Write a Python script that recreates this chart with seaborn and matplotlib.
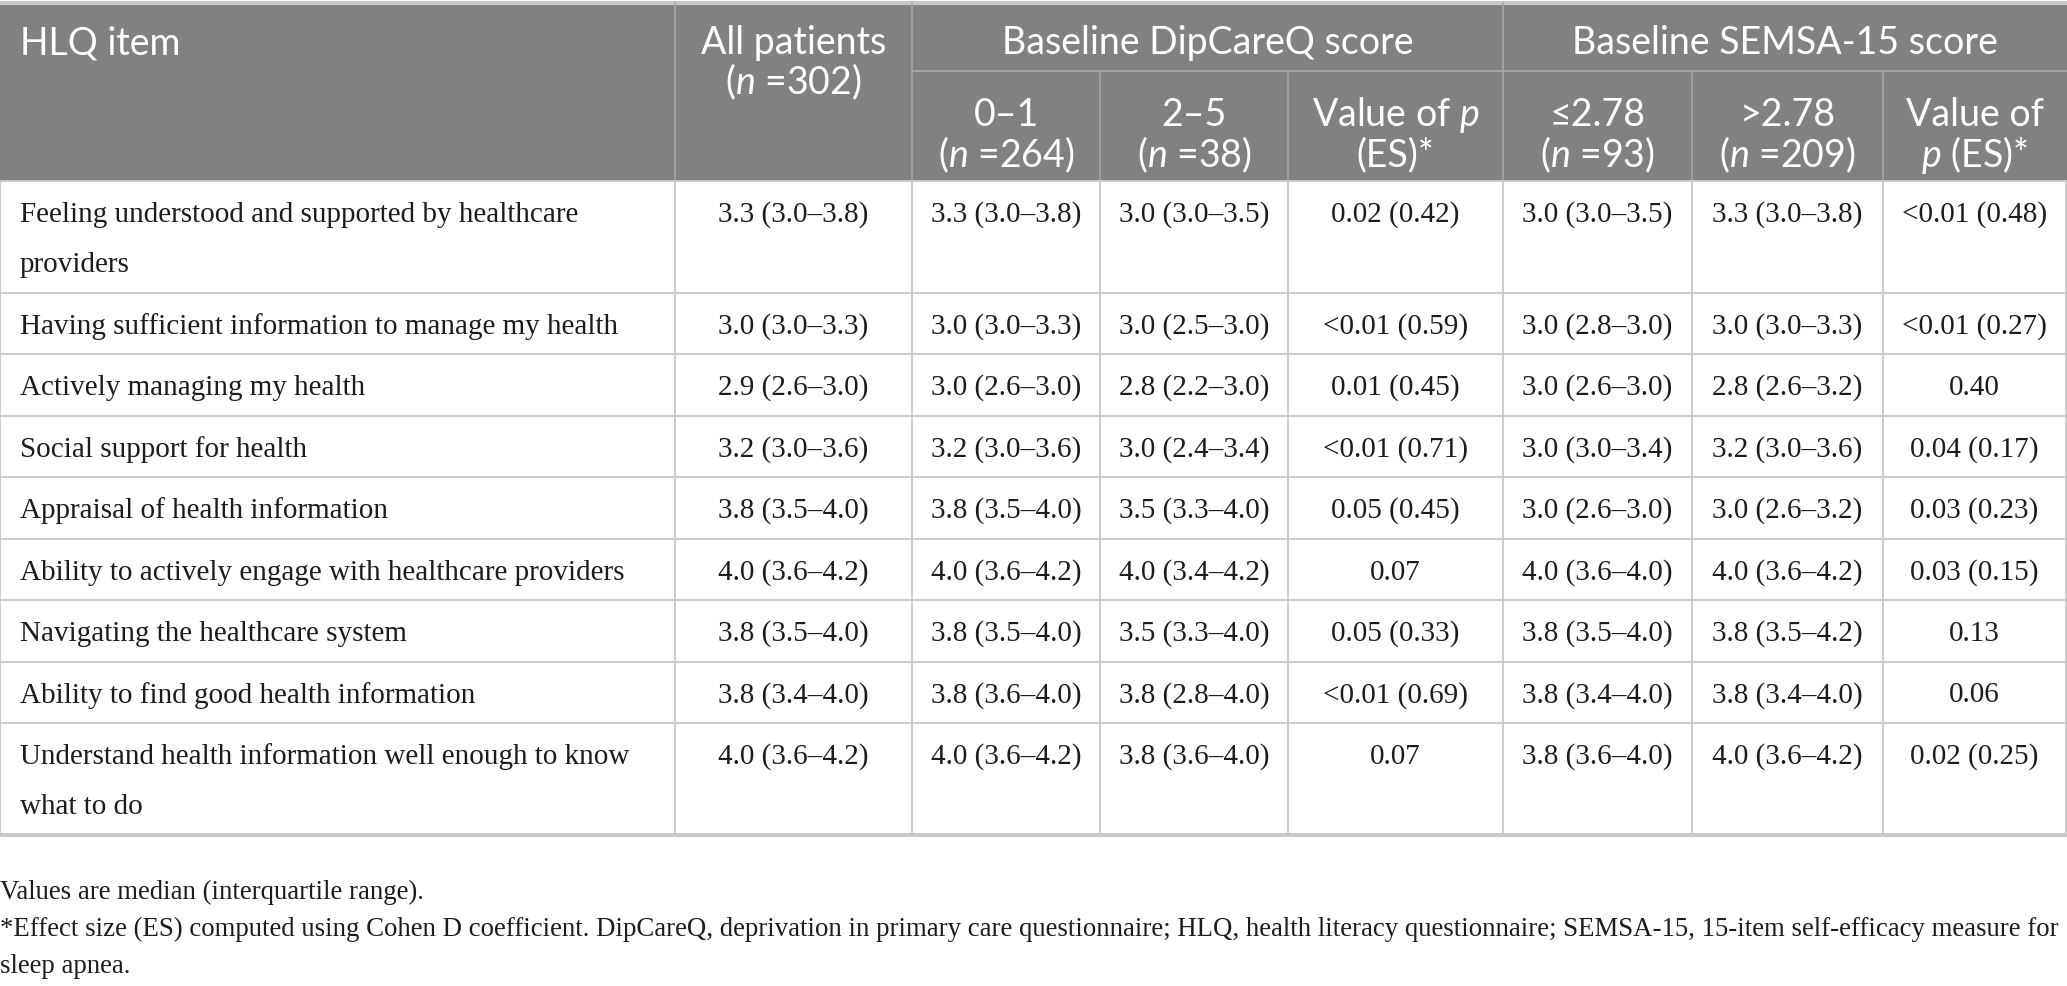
import matplotlib
matplotlib.use("Agg")
import matplotlib.pyplot as plt
import seaborn as sns
from matplotlib.patches import Rectangle

# ---- table content ----
items = [
    "Feeling understood and supported by healthcare\nproviders",
    "Having sufficient information to manage my health",
    "Actively managing my health",
    "Social support for health",
    "Appraisal of health information",
    "Ability to actively engage with healthcare providers",
    "Navigating the healthcare system",
    "Ability to find good health information",
    "Understand health information well enough to know\nwhat to do",
]
all_patients = ["3.3 (3.0–3.8)", "3.0 (3.0–3.3)", "2.9 (2.6–3.0)", "3.2 (3.0–3.6)", "3.8 (3.5–4.0)",
                "4.0 (3.6–4.2)", "3.8 (3.5–4.0)", "3.8 (3.4–4.0)", "4.0 (3.6–4.2)"]
dip_low = ["3.3 (3.0–3.8)", "3.0 (3.0–3.3)", "3.0 (2.6–3.0)", "3.2 (3.0–3.6)", "3.8 (3.5–4.0)",
           "4.0 (3.6–4.2)", "3.8 (3.5–4.0)", "3.8 (3.6–4.0)", "4.0 (3.6–4.2)"]
dip_high = ["3.0 (3.0–3.5)", "3.0 (2.5–3.0)", "2.8 (2.2–3.0)", "3.0 (2.4–3.4)", "3.5 (3.3–4.0)",
            "4.0 (3.4–4.2)", "3.5 (3.3–4.0)", "3.8 (2.8–4.0)", "3.8 (3.6–4.0)"]
dip_p = ["0.02 (0.42)", "<0.01 (0.59)", "0.01 (0.45)", "<0.01 (0.71)", "0.05 (0.45)",
         "0.07", "0.05 (0.33)", "<0.01 (0.69)", "0.07"]
sem_low = ["3.0 (3.0–3.5)", "3.0 (2.8–3.0)", "3.0 (2.6–3.0)", "3.0 (3.0–3.4)", "3.0 (2.6–3.0)",
           "4.0 (3.6–4.0)", "3.8 (3.5–4.0)", "3.8 (3.4–4.0)", "3.8 (3.6–4.0)"]
sem_high = ["3.3 (3.0–3.8)", "3.0 (3.0–3.3)", "2.8 (2.6–3.2)", "3.2 (3.0–3.6)", "3.0 (2.6–3.2)",
            "4.0 (3.6–4.2)", "3.8 (3.5–4.2)", "3.8 (3.4–4.0)", "4.0 (3.6–4.2)"]
sem_p = ["<0.01 (0.48)", "<0.01 (0.27)", "0.40", "0.04 (0.17)", "0.03 (0.23)",
         "0.03 (0.15)", "0.13", "0.06", "0.02 (0.25)"]

group_headers = ["Baseline DipCareQ score", "Baseline SEMSA-15 score"]
sub_headers = [
    ["0–1", r"($\mathit{n}$ =264)"],
    ["2–5", r"($\mathit{n}$ =38)"],
    [r"Value of $\mathit{p}$", "(ES)*"],
    ["≤2.78", r"($\mathit{n}$ =93)"],
    [">2.78", r"($\mathit{n}$ =209)"],
    ["Value of", r"$\mathit{p}$ (ES)*"],
]
footnotes = [
    "Values are median (interquartile range).",
    "*Effect size (ES) computed using Cohen D coefficient. DipCareQ, deprivation in primary care questionnaire; "
    "HLQ, health literacy questionnaire; SEMSA-15, 15-item self-efficacy measure for",
    "sleep apnea.",
]

value_cols = [all_patients, dip_low, dip_high, dip_p, sem_low, sem_high, sem_p]

# ---- layout ----
W, H = 2067, 987
col_edges = [0, 675, 912, 1100, 1288, 1503, 1692, 1883, 2066]
head_top, head_mid, head_bot = 4, 72, 182
line_h = 50
row_base = 61.5

sns.set_theme(style="white")
plt.rcParams["mathtext.fontset"] = "custom"
plt.rcParams["mathtext.rm"] = "Lato"
plt.rcParams["mathtext.it"] = "Lato:italic"

head_font = dict(family=["Lato", "DejaVu Sans"], fontsize=27, color="white")
body_font = dict(family=["Liberation Serif", "DejaVu Serif"], fontsize=21, color="#1c1c1c")
note_font = dict(family=["Liberation Serif", "DejaVu Serif"], fontsize=19.3, color="#1c1c1c")

fig = plt.figure(figsize=(W / 100, H / 100), dpi=100)
ax = fig.add_axes([0, 0, 1, 1])
ax.set_xlim(0, W)
ax.set_ylim(H, 0)
ax.axis("off")

head_gray = "#808280"
grid_gray = "#c8c8c8"
head_line = "#a3a5a3"

# header block
ax.add_patch(Rectangle((0, head_top), W, head_bot - head_top, color=head_gray, lw=0))
ax.plot([0, W], [head_top, head_top], color=grid_gray, lw=3)
ax.plot([col_edges[2], W], [head_mid, head_mid], color=head_line, lw=1.5)
for i, x in enumerate(col_edges[1:-1], start=1):
    y0 = head_top if i in (1, 2, 5) else head_mid
    ax.plot([x, x], [y0, head_bot], color=head_line, lw=1.2)

ax.text(20, 43, "HLQ item", ha="left", va="center", **head_font)
xc_all = (col_edges[1] + col_edges[2]) / 2
ax.text(xc_all, 43, "All patients", ha="center", va="center", **head_font)
ax.text(xc_all, 82, r"($\mathit{n}$ =302)", ha="center", va="center", **head_font)
ax.text((col_edges[2] + col_edges[5]) / 2, 43, group_headers[0], ha="center", va="center", **head_font)
ax.text((col_edges[5] + col_edges[8]) / 2, 43, group_headers[1], ha="center", va="center", **head_font)
for j, (l1, l2) in enumerate(sub_headers):
    xc = (col_edges[j + 2] + col_edges[j + 3]) / 2
    ax.text(xc, 115, l1, ha="center", va="center", **head_font)
    ax.text(xc, 155, l2, ha="center", va="center", **head_font)

# body rows
y = head_bot
row_tops = []
for i, item in enumerate(items):
    n_lines = item.count("\n") + 1
    h = row_base + line_h * (n_lines - 1)
    row_tops.append(y)
    for k, part in enumerate(item.split("\n")):
        ax.text(20, y + 33 + line_h * k, part, ha="left", va="center", **body_font)
    for c, col in enumerate(value_cols):
        xc = (col_edges[c + 1] + col_edges[c + 2]) / 2
        ax.text(xc, y + 33, col[i], ha="center", va="center", **body_font)
    y += h
table_bot = y

for t in row_tops[1:]:
    ax.plot([0, W], [t, t], color=grid_gray, lw=1.3)
ax.plot([0, W], [head_bot, head_bot], color=grid_gray, lw=1.3)
ax.plot([0, W], [table_bot, table_bot], color=grid_gray, lw=3)
for x in col_edges:
    ax.plot([x, x], [head_bot, table_bot], color=grid_gray, lw=1.3)

# footnotes
for k, note in enumerate(footnotes):
    ax.text(0, table_bot + 63.5 + 37 * k, note, ha="left", va="baseline", **note_font)

fig.savefig("out.png", dpi=100)
